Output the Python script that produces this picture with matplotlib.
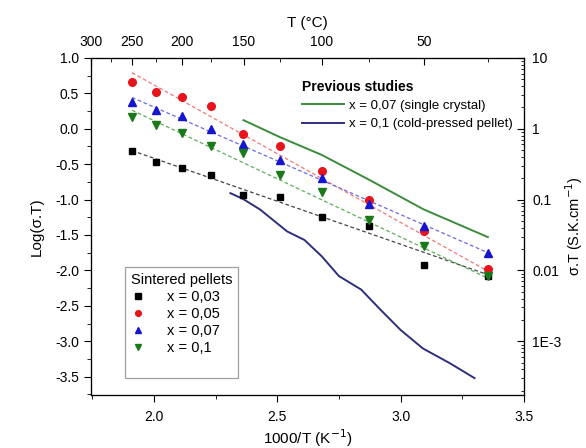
import numpy as np
import matplotlib
matplotlib.use("Agg")
from matplotlib import pyplot as plt
from matplotlib.lines import Line2D
from matplotlib.ticker import MultipleLocator, LogLocator, NullFormatter, FormatStrFormatter

plt.rcParams['font.family'] = ['Liberation Sans', 'DejaVu Sans']
plt.rcParams['axes.unicode_minus'] = False

# 1000/T (K^-1) of the measured temperatures (250 ... 25 degC)
inv_t = [1.911, 2.007, 2.113, 2.231, 2.363, 2.511, 2.680, 2.872, 3.094, 3.354]

# Log(sigma.T) of the sintered pellets
log_x003 = [-0.31, -0.47, -0.56, -0.66, -0.94, -0.96, -1.24, -1.38, -1.93, -2.08]
log_x005 = [0.66, 0.52, 0.44, 0.32, -0.07, -0.25, -0.60, -1.00, -1.45, -1.98]
log_x007 = [0.38, 0.26, 0.18, 0.00, -0.21, -0.44, -0.69, -1.06, -1.38, -1.76]
log_x01 = [0.16, 0.05, -0.06, -0.25, -0.35, -0.65, -0.89, -1.29, -1.66, -2.08]

# linear fits (dashed), values at both ends
fit_x = [1.911, 3.354]
fit_x003 = [-0.31, -2.06]
fit_x005 = [0.79, -2.01]
fit_x007 = [0.44, -1.75]
fit_x01 = [0.26, -2.11]

# previous studies
crystal_x = [2.363, 2.511, 2.680, 2.872, 3.094, 3.354]
crystal_y = [0.12, -0.12, -0.37, -0.72, -1.14, -1.53]
pressed_x = [2.31, 2.36, 2.43, 2.54, 2.61, 2.68, 2.75, 2.84, 2.92, 3.00, 3.09, 3.20, 3.30]
pressed_y = [-0.91, -0.99, -1.14, -1.45, -1.57, -1.80, -2.08, -2.27, -2.56, -2.84, -3.10, -3.31, -3.52]

labels = ["x = 0,03", "x = 0,05", "x = 0,07", "x = 0,1"]
top_major = [300, 250, 200, 150, 100, 50]
top_minor = [275, 225, 175, 125, 75, 25]


def c_to_inv(t):
    return 1000.0 / (np.asarray(t) + 273.15)


fig = plt.figure(figsize=(5.86, 4.48), dpi=100)
ax = fig.add_axes([0.155, 0.118, 0.739, 0.753])

# dashed fit lines
ax.plot(fit_x, fit_x003, ls=(0, (3, 2)), lw=0.9, color='#444444')
ax.plot(fit_x, fit_x005, ls=(0, (3, 2)), lw=0.9, color='#f07878')
ax.plot(fit_x, fit_x007, ls=(0, (3, 2)), lw=0.9, color='#6a6ae0')
ax.plot(fit_x, fit_x01, ls=(0, (3, 2)), lw=0.9, color='#5cae5c')

# previous studies
l1, = ax.plot(crystal_x, crystal_y, color='#3b8c3b', lw=1.4,
              label="x = 0,07 (single crystal)")
l2, = ax.plot(pressed_x, pressed_y, color='#2e2e7e', lw=1.4,
              label="x = 0,1 (cold-pressed pellet)")

# measured points
m1, = ax.plot(inv_t, log_x003, 's', ms=5, color='black', ls='none', label=labels[0])
m2, = ax.plot(inv_t, log_x005, 'o', ms=5.5, color='#e8141c', ls='none', label=labels[1])
m3, = ax.plot(inv_t, log_x007, '^', ms=6, color='#1515d0', ls='none', label=labels[2])
m4, = ax.plot(inv_t, log_x01, 'v', ms=6, color='#1a7a1a', ls='none', label=labels[3])

ax.set_xlim(1.744, 3.5)
ax.set_ylim(-3.76, 1.0)
ax.xaxis.set_major_locator(MultipleLocator(0.5))
ax.xaxis.set_minor_locator(MultipleLocator(0.25))
ax.yaxis.set_major_locator(MultipleLocator(0.5))
ax.yaxis.set_minor_locator(MultipleLocator(0.25))
ax.xaxis.set_major_formatter(FormatStrFormatter('%.1f'))
ax.yaxis.set_major_formatter(FormatStrFormatter('%.1f'))
ax.tick_params(axis='both', which='major', direction='out', length=5, labelsize=10)
ax.tick_params(axis='both', which='minor', direction='out', length=3)
ax.tick_params(axis='x', pad=6)
ax.set_xlabel("1000/T (K$^{-1}$)", fontsize=11, labelpad=2)
ax.set_ylabel("Log(\u03c3.T)", fontsize=11, labelpad=8)

# right axis, sigma.T on log scale
ax2 = ax.twinx()
ax2.set_yscale('log')
ax2.set_ylim(10 ** -3.76, 10 ** 1.0)
ax2.set_yticks([10, 1, 0.1, 0.01, 0.001], ["10", "1", "0.1", "0.01", "1E-3"])
ax2.yaxis.set_minor_locator(LogLocator(base=10, subs=np.arange(2, 10)))
ax2.yaxis.set_minor_formatter(NullFormatter())
ax2.tick_params(which='major', direction='in', length=5, labelsize=10, pad=6)
ax2.tick_params(which='minor', direction='in', length=2.5)
ax2.set_ylabel("\u03c3.T (S.K.cm$^{-1}$)", fontsize=10.5, labelpad=1)

# top axis in degrees Celsius
top = ax2.twiny()
top.set_xlim(ax.get_xlim())
top.set_xticks(c_to_inv(top_major), [str(t) for t in top_major])
top.set_xticks(c_to_inv(top_minor), minor=True)
top.tick_params(which='major', direction='in', length=5, labelsize=10, pad=6)
top.tick_params(which='minor', direction='in', length=3)
top.set_xlabel("T (\u00b0C)", fontsize=11, labelpad=6)

# legends
leg1 = top.legend(handles=[l1, l2], loc='upper left', bbox_to_anchor=(0.46, 0.97),
                  frameon=False, fontsize=9.5, handlelength=3.2, handletextpad=0.4,
                  labelspacing=0.45, title="Previous studies",
                  title_fontproperties={'weight': 'bold', 'size': 10})
leg1._legend_box.align = "left"

blank = Line2D([], [], ls='none', marker=None)
leg2 = top.legend(handles=[m1, m2, m3, m4, blank], labels=labels + [" "],
                  loc='lower left', bbox_to_anchor=(0.062, 0.03), fontsize=10.5,
                  markerscale=0.75, handlelength=1.0, handletextpad=1.5,
                  labelspacing=0.2, borderpad=0.4, fancybox=False,
                  edgecolor='#888888', title="Sintered pellets",
                  title_fontproperties={'size': 10.5})
leg2._legend_box.align = "left"
leg2.get_frame().set_linewidth(0.9)
top.add_artist(leg1)

plt.savefig("out.png", dpi=100)
